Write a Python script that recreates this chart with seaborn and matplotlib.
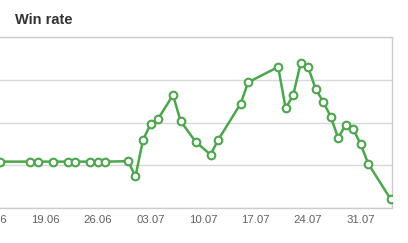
import matplotlib
matplotlib.use("Agg")
import matplotlib.pyplot as plt
import matplotlib.dates as mdates
import seaborn as sns
import pandas as pd

dates = ["2015-06-13", "2015-06-17", "2015-06-18", "2015-06-20", "2015-06-22",
         "2015-06-23", "2015-06-25", "2015-06-26", "2015-06-27", "2015-06-30",
         "2015-07-01", "2015-07-02", "2015-07-03", "2015-07-04", "2015-07-06",
         "2015-07-07", "2015-07-09", "2015-07-11", "2015-07-12", "2015-07-15",
         "2015-07-16", "2015-07-20", "2015-07-21", "2015-07-22", "2015-07-23",
         "2015-07-24", "2015-07-25", "2015-07-26", "2015-07-27", "2015-07-28",
         "2015-07-29", "2015-07-30", "2015-07-31", "2015-08-01", "2015-08-04"]
win_rate = [45.45, 45.45, 45.45, 45.45, 45.45,
            45.45, 45.45, 45.45, 45.45, 45.5,
            43.74, 47.97, 49.81, 50.43, 53.23,
            50.19, 47.78, 46.26, 47.97, 52.21,
            54.71, 56.50, 51.68, 53.21, 56.93,
            56.46, 53.93, 52.45, 50.70, 48.21,
            49.76, 49.26, 47.47, 45.21, 41.05]
title = "Win rate"

df = pd.DataFrame({"date": pd.to_datetime(dates), "win_rate": win_rate})

sns.set_theme(style="white")
plt.rcParams["font.family"] = ["Liberation Sans", "DejaVu Sans"]

fig = plt.figure(figsize=(4.08, 2.43), dpi=100)
off = 30.0  # axes extends beyond the left edge of the canvas
ax = fig.add_axes([-off / 408, 34.7 / 243, (391.7 + off) / 408, 171.3 / 243])

green = "#4ca64c"
sns.lineplot(data=df, x="date", y="win_rate", ax=ax, color=green, linewidth=1.8,
             marker="o", markersize=5.5, markerfacecolor="white",
             markeredgecolor=green, markeredgewidth=1.5, zorder=3)

x0 = pd.Timestamp("2015-06-08") + pd.Timedelta(hours=23)
x1 = pd.Timestamp("2015-08-04") + pd.Timedelta(hours=3)
ax.set_xlim(x0, x1)
ax.set_ylim(40, 60)
ax.set_yticks([40, 45, 50, 55, 60])
ax.yaxis.grid(True, color="#d8d8d8", linewidth=1)
ax.set_yticklabels([])
ax.tick_params(axis="y", length=0)

ax.xaxis.set_major_locator(mdates.WeekdayLocator(byweekday=mdates.FR))
ax.xaxis.set_major_formatter(mdates.DateFormatter("%d.%m"))
ax.tick_params(axis="x", length=0, pad=5, labelsize=8.2, labelcolor="#606060")
ax.set_xlabel("")
ax.set_ylabel("")

for side in ["top", "right", "bottom"]:
    ax.spines[side].set_visible(True)
    ax.spines[side].set_color("#cccccc")
    ax.spines[side].set_linewidth(1)
ax.spines["left"].set_visible(False)

fig.text(15 / 408, 1 - 20 / 243, title, fontsize=10.5, fontweight="bold",
         color="#333333", va="center", ha="left")

fig.savefig("out.png", dpi=100)
